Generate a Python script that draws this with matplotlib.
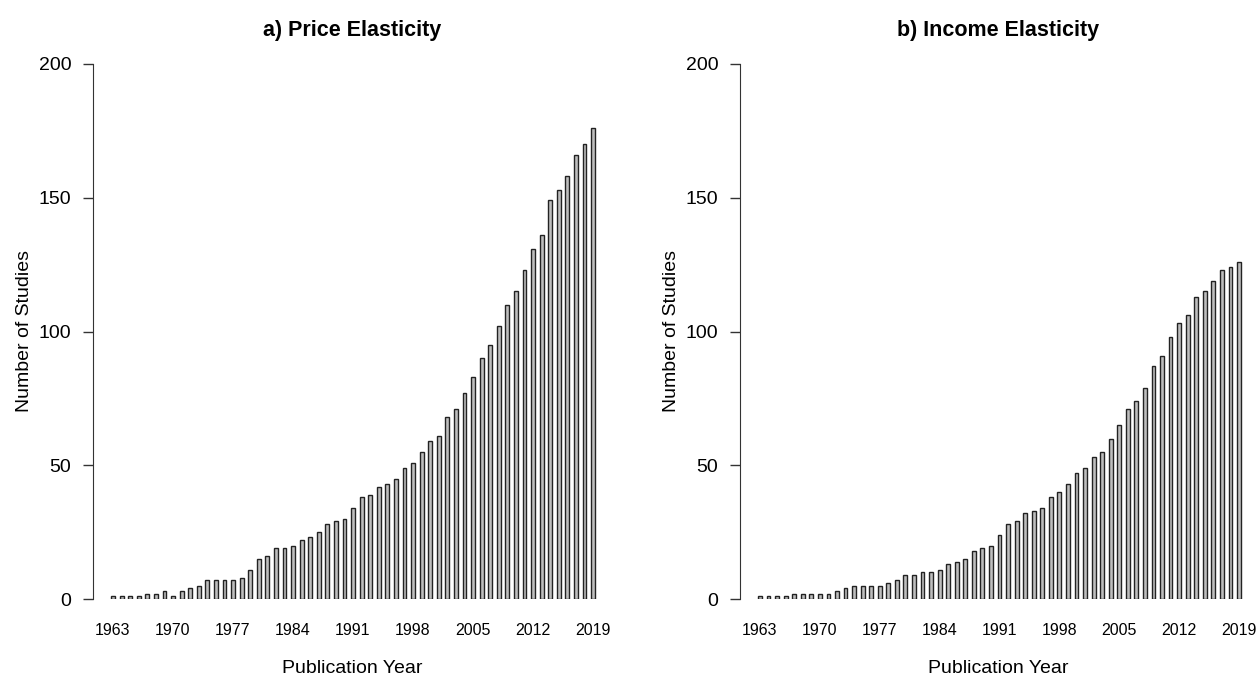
import matplotlib
matplotlib.use("Agg")
import matplotlib.pyplot as plt

plt.rcParams['font.family'] = ['Liberation Sans', 'DejaVu Sans']

# Publication years and cumulative number of studies
years = list(range(1963, 2020))
price_studies = [1, 1, 1, 1, 2, 2, 3, 1, 3, 4,
                 5, 7, 7, 7, 7, 8, 11, 15, 16, 19,
                 19, 20, 22, 23, 25, 28, 29, 30, 34, 38,
                 39, 42, 43, 45, 49, 51, 55, 59, 61, 68,
                 71, 77, 83, 90, 95, 102, 110, 115, 123, 131,
                 136, 149, 153, 158, 166, 170, 176]
income_studies = [1, 1, 1, 1, 2, 2, 2, 2, 2, 3,
                  4, 5, 5, 5, 5, 6, 7, 9, 9, 10,
                  10, 11, 13, 14, 15, 18, 19, 20, 24, 28,
                  29, 32, 33, 34, 38, 40, 43, 47, 49, 53,
                  55, 60, 65, 71, 74, 79, 87, 91, 98, 103,
                  106, 113, 115, 119, 123, 124, 126]
year_ticks = [1963, 1970, 1977, 1984, 1991, 1998, 2005, 2012, 2019]
y_ticks = [0, 50, 100, 150, 200]

W, H = 1258, 675
fig = plt.figure(figsize=(W / 100, H / 100), dpi=100)


def make_panel(x0, x1, first_px, last_px, values, title):
    # axes placed in pixels: y axis line at x0, 0 at y=599 and 200 at y=64
    ax = fig.add_axes([x0 / W, (H - 599) / H, (x1 - x0) / W, (599 - 64) / H])
    ax.bar(years, values, width=0.45, color='#bebebe', edgecolor='#222222', linewidth=1.0)
    step = (last_px - first_px) / (years[-1] - years[0])
    ax.set_xlim(years[0] - (first_px - x0) / step, years[-1] + (x1 - last_px) / step)
    ax.set_ylim(0, 200)
    for s in ['top', 'right', 'bottom']:
        ax.spines[s].set_visible(False)
    ax.spines['left'].set_bounds(0, 200)
    ax.spines['left'].set_color('#333333')
    ax.set_yticks(y_ticks)
    ax.set_xticks(year_ticks)
    ax.tick_params(axis='y', length=7.5, width=1, color='#333333', labelsize=14, pad=8)
    ax.tick_params(axis='x', length=0, labelsize=11.5, pad=17)
    ax.set_xlabel("Publication Year", fontsize=14, labelpad=16)
    ax.set_ylabel("Number of Studies", fontsize=14, labelpad=4)
    ax.set_title(title, fontsize=15.5, fontweight='bold', pad=20)
    return ax


make_panel(93, 611, 113, 593, price_studies, "a) Price Elasticity")
make_panel(740, 1256, 760, 1239, income_studies, "b) Income Elasticity")

fig.savefig("out.png", dpi=100)
